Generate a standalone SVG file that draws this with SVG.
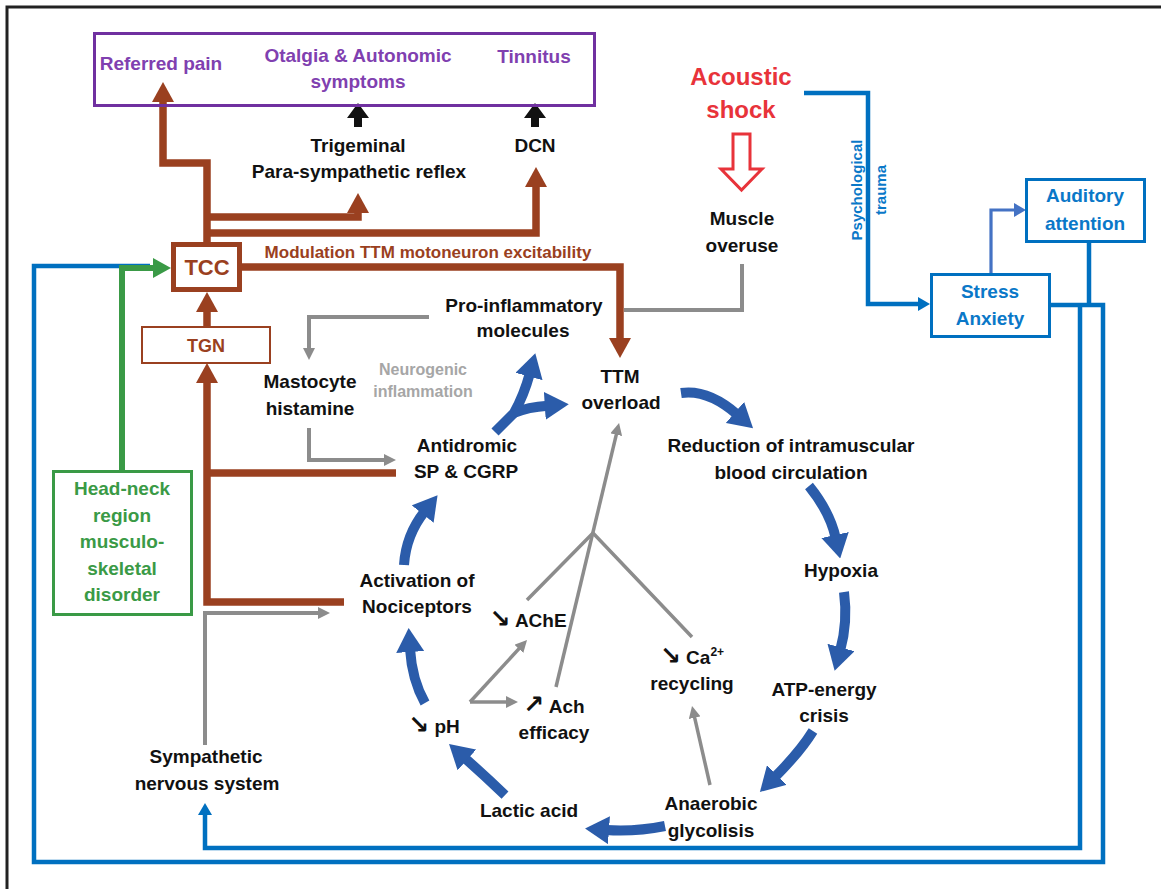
<svg xmlns="http://www.w3.org/2000/svg" width="1161" height="889" viewBox="0 0 1161 889">
<defs>
<style>
text{font-family:"Liberation Sans","DejaVu Sans",sans-serif;font-weight:bold;font-size:19px;text-anchor:middle;fill:#111}
.ar{font-family:"DejaVu Sans",sans-serif;font-size:25px}
.pu{fill:#8040B0}
.rd{fill:#E8333A;font-size:24px}
.bt{fill:#0A78C8}
.gt{fill:#3A9A46}
.brt{fill:#9A4020}
.gyt{fill:#A6A6A6;font-size:16px}
.cyc{fill:none;stroke:#2B5CAA;stroke-width:10;marker-end:url(#mb)}
.gl{fill:none;stroke:#8C8C8C;stroke-width:3.5}
.gla{fill:none;stroke:#8C8C8C;stroke-width:3.5;marker-end:url(#mg)}
.brl{fill:none;stroke:#9A4020;stroke-width:7.5}
.bra{fill:none;stroke:#9A4020;stroke-width:7.5;marker-end:url(#mbr)}
.bll{fill:none;stroke:#0070C0;stroke-width:4.5}
</style>
<marker id="mb" viewBox="0 0 24 28" refX="3" refY="14" markerWidth="24" markerHeight="28" markerUnits="userSpaceOnUse" orient="auto"><path d="M0,0 L24,14 L0,28 z" fill="#2B5CAA"/></marker>
<marker id="mg" viewBox="0 0 12 12" refX="4" refY="6" markerWidth="12" markerHeight="12" markerUnits="userSpaceOnUse" orient="auto"><path d="M0,0 L12,6 L0,12 z" fill="#8C8C8C"/></marker>
<marker id="mbr" viewBox="0 0 20 22" refX="4" refY="11" markerWidth="20" markerHeight="22" markerUnits="userSpaceOnUse" orient="auto"><path d="M0,0 L20,11 L0,22 z" fill="#9A4020"/></marker>
<marker id="mbl" viewBox="0 0 12 14" refX="3" refY="7" markerWidth="12" markerHeight="14" markerUnits="userSpaceOnUse" orient="auto"><path d="M0,0 L12,7 L0,14 z" fill="#0070C0"/></marker>
<marker id="mbl2" viewBox="0 0 12 14" refX="3" refY="7" markerWidth="12" markerHeight="14" markerUnits="userSpaceOnUse" orient="auto"><path d="M0,0 L12,7 L0,14 z" fill="#4472C4"/></marker>
<marker id="mgn" viewBox="0 0 18 20" refX="2" refY="10" markerWidth="18" markerHeight="20" markerUnits="userSpaceOnUse" orient="auto"><path d="M0,0 L18,10 L0,20 z" fill="#3A9A46"/></marker>
</defs>
<rect width="1161" height="889" fill="#fff"/>
<path d="M7,889 V7 H1161" fill="none" stroke="#222" stroke-width="3"/>

<g id="connectors">
  <path class="bll" d="M1050,305 H1103 V862 H34 V266 H150"/>
  <path class="bll" d="M1080,305 V848 H205 V812" style="marker-end:url(#mbl)"/>
  <path class="bll" d="M1089,242 V305"/>
  <path class="bll" d="M804,93 H868 V304 H921" style="marker-end:url(#mbl)"/>
  <path d="M991,273 V210 H1017" fill="none" stroke="#4472C4" stroke-width="3.2" marker-end="url(#mbl2)"/>
  <path d="M122,471 V268 H155" fill="none" stroke="#3A9A46" stroke-width="6" marker-end="url(#mgn)"/>
  <path class="bra" d="M207,242 V163 H163 V98"/>
  <path class="bra" d="M207,217 H358 V209"/>
  <path class="bra" d="M207,233 H536 V183"/>
  <path class="bra" d="M242,267 H620 V342"/>
  <path class="bra" d="M207,326 V308"/>
  <path class="bra" d="M344,602 H207 V379"/>
  <path class="brl" d="M207,473 H396"/>
  <polygon points="358,103 369,118 362,118 362,127 354,127 354,118 347,118" fill="#111"/>
  <polygon points="535,103 546,118 539,118 539,127 531,127 531,118 524,118" fill="#111"/>
  <polygon points="733,134 750,134 750,169 762,169 741.5,190 721,169 733,169" fill="#fff" stroke="#E8333A" stroke-width="3"/>
  <path class="gl" d="M742,264 V310 H624" style="stroke-width:4"/>
  <path class="gla" d="M429,317 H309 V352" style="stroke-width:4"/>
  <path class="gla" d="M309,428 V460 H388" style="stroke-width:4"/>
  <path class="gla" d="M205,745 V613 H322" style="stroke-width:4"/>
  <path class="gla" d="M470,702 L521.6,645.9"/>
  <path class="gla" d="M470,702 H510"/>
  <path class="gla" d="M556,687 L617.2,430.8"/>
  <path class="gl" d="M527,600 L593,533 L692,637"/>
  <path class="gla" d="M710,785 L693.8,713.8"/>
  <path class="cyc" d="M681,393 Q708,389 737.2,414.4"/>
  <path class="cyc" d="M809,486 Q830,512 835.7,538"/>
  <path class="cyc" d="M844,592 Q848,622 840.2,650.4"/>
  <path class="cyc" d="M813,731 Q800,752 774.8,777.1"/>
  <path class="cyc" d="M665,826 Q635,832 606,830"/>
  <path class="cyc" d="M505,795 Q485,776 464.7,757.9"/>
  <path class="cyc" d="M425,703 Q412,680 410,649"/>
  <path class="cyc" d="M404,565 Q406,535 424.5,511.7"/>
  <path class="cyc" d="M495,432 L514,413 Q524,395 529.8,373.6"/>
  <path class="cyc" d="M514,413 Q528,407 547.8,405.7"/>
</g>

<g id="symptoms">
  <rect x="94.5" y="33.5" width="500" height="72" fill="none" stroke="#7030A0" stroke-width="3"/>
  <text class="pu" x="161" y="70">Referred pain</text>
  <text class="pu" x="358" y="62">Otalgia &amp; Autonomic</text>
  <text class="pu" x="358" y="88">symptoms</text>
  <text class="pu" x="534" y="63">Tinnitus</text>
</g>
<g id="trigeminal"><text x="358" y="152">Trigeminal</text><text x="359" y="178">Para-sympathetic reflex</text></g>
<g id="dcn"><text x="535" y="152">DCN</text></g>
<g id="acoustic-shock"><text class="rd" x="741" y="85">Acoustic</text><text class="rd" x="741" y="118">shock</text></g>
<g id="muscle-overuse"><text x="742" y="225">Muscle</text><text x="742" y="252">overuse</text></g>
<g id="psych-label">
  <text class="bt" style="font-size:15px" transform="translate(862,190) rotate(-90)">Psychological</text>
  <text class="bt" style="font-size:15px" transform="translate(886,190) rotate(-90)">trauma</text>
</g>
<g id="auditory-attention">
  <rect x="1026.5" y="179.5" width="118" height="62" fill="#fff" stroke="#0070C0" stroke-width="3"/>
  <text class="bt" x="1085" y="202">Auditory</text><text class="bt" x="1085" y="230">attention</text>
</g>
<g id="stress-anxiety">
  <rect x="931.5" y="274.5" width="118" height="62" fill="#fff" stroke="#0070C0" stroke-width="3"/>
  <text class="bt" x="990" y="298">Stress</text><text class="bt" x="990" y="325">Anxiety</text>
</g>
<g id="tcc">
  <rect x="173.5" y="244.5" width="66" height="45" fill="#fff" stroke="#9A4020" stroke-width="5"/>
  <text class="brt" x="207" y="275" style="font-size:22px">TCC</text>
</g>
<g id="modulation-label"><text class="brt" x="428" y="258" style="font-size:17px">Modulation TTM motoneuron excitability</text></g>
<g id="tgn">
  <rect x="142" y="327" width="128" height="36" fill="#fff" stroke="#9A4020" stroke-width="2"/>
  <text class="brt" x="206" y="352" style="font-size:18px">TGN</text>
</g>
<g id="head-neck">
  <rect x="53.5" y="471.5" width="138" height="143" fill="#fff" stroke="#3A9A46" stroke-width="3"/>
  <text class="gt" x="122" y="495">Head-neck</text>
  <text class="gt" x="122" y="522">region</text>
  <text class="gt" x="122" y="548">musculo-</text>
  <text class="gt" x="122" y="575">skeletal</text>
  <text class="gt" x="122" y="601">disorder</text>
</g>
<g id="pro-inflammatory"><text x="524" y="312">Pro-inflammatory</text><text x="523" y="337">molecules</text></g>
<g id="neurogenic-label"><text class="gyt" x="423" y="375">Neurogenic</text><text class="gyt" x="423" y="397">inflammation</text></g>
<g id="ttm-overload"><text x="620" y="383">TTM</text><text x="621" y="409">overload</text></g>
<g id="mastocyte"><text x="310" y="388">Mastocyte</text><text x="310" y="415">histamine</text></g>
<g id="antidromic"><text x="467" y="452">Antidromic</text><text x="466" y="478">SP &amp; CGRP</text></g>
<g id="reduction"><text x="791" y="452">Reduction of intramuscular</text><text x="791" y="479">blood circulation</text></g>
<g id="hypoxia"><text x="841" y="577">Hypoxia</text></g>
<g id="atp"><text x="824" y="696">ATP-energy</text><text x="824" y="722">crisis</text></g>
<g id="ca"><text x="692" y="664"><tspan class="ar">↘</tspan> Ca<tspan dy="-8" style="font-size:12px">2+</tspan></text><text x="692" y="690">recycling</text></g>
<g id="anaerobic"><text x="711" y="810">Anaerobic</text><text x="711" y="837">glycolisis</text></g>
<g id="lactic"><text x="529" y="817">Lactic acid</text></g>
<g id="ph"><text x="434" y="733"><tspan class="ar">↘</tspan> pH</text></g>
<g id="ache"><text x="528" y="627"><tspan class="ar">↘</tspan> AChE</text></g>
<g id="ach"><text x="554" y="713"><tspan class="ar">↗</tspan> Ach</text><text x="554" y="739">efficacy</text></g>
<g id="nociceptors"><text x="417" y="587">Activation of</text><text x="417" y="613">Nociceptors</text></g>
<g id="sympathetic"><text x="206" y="763">Sympathetic</text><text x="207" y="790">nervous system</text></g>
</svg>
